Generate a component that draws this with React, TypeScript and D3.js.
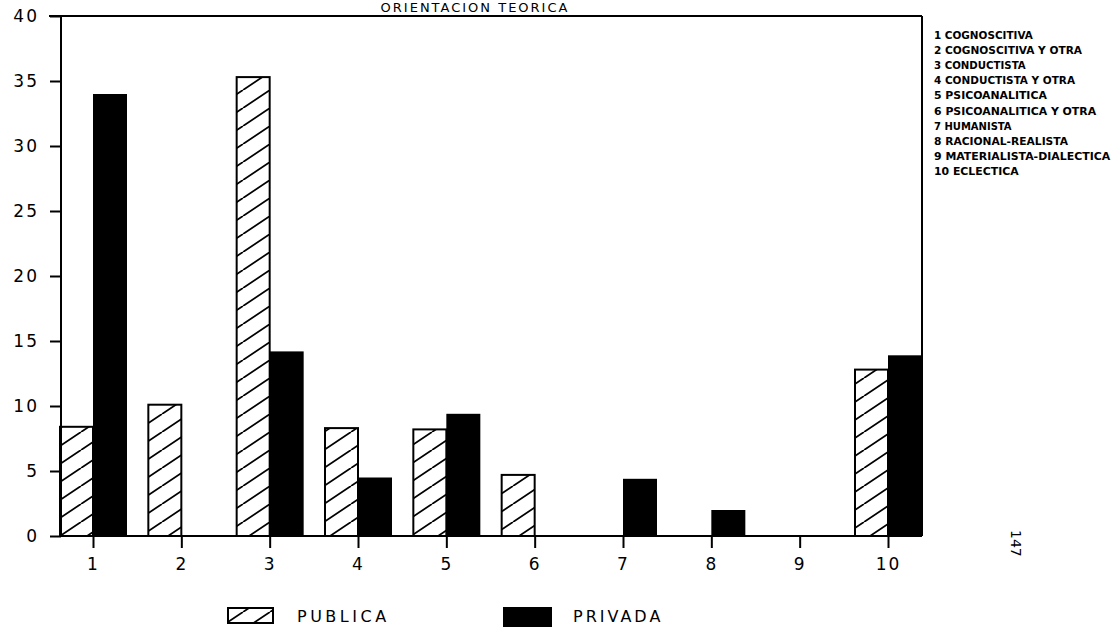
import { useEffect, useRef } from "react";
import * as d3 from "d3";

// categories 1..10 (orientacion teorica)
const categories = ["1", "2", "3", "4", "5", "6", "7", "8", "9", "10"];
const publica = [8.4, 10.1, 35.3, 8.3, 8.2, 4.7, 0, 0, 0, 12.8];
const privada = [34.0, 0, 14.2, 4.5, 9.4, 0, 4.4, 2.0, 0, 13.9];
const yTicks = [0, 5, 10, 15, 20, 25, 30, 35, 40];
const legendItems = [
  "1 COGNOSCITIVA",
  "2 COGNOSCITIVA Y OTRA",
  "3 CONDUCTISTA",
  "4 CONDUCTISTA Y OTRA",
  "5 PSICOANALITICA",
  "6 PSICOANALITICA Y OTRA",
  "7 HUMANISTA",
  "8 RACIONAL-REALISTA",
  "9 MATERIALISTA-DIALECTICA",
  "10 ECLECTICA",
];

const W = 1116;
const H = 628;

const App = () => {
  const svgRef = useRef<SVGSVGElement>(null);

  useEffect(() => {
    const svg = d3.select(svgRef.current);
    svg.selectAll("*").remove();

    const left = 61;
    const right = 922;
    const font = "'DejaVu Sans', sans-serif";

    const x = d3.scalePoint().domain(categories).range([93, 888]);
    const y = d3.scaleLinear().domain([0, 40]).range([536, 16]);
    const barW = 33;

    // hatch pattern for PUBLICA
    const defs = svg.append("defs");
    defs
      .append("pattern")
      .attr("id", "hatch")
      .attr("patternUnits", "userSpaceOnUse")
      .attr("width", 27)
      .attr("height", 18)
      .append("path")
      .attr("d", "M-27,18 L0,0 M0,18 L27,0 M27,18 L54,0")
      .attr("stroke", "#000")
      .attr("stroke-width", 1.8)
      .attr("fill", "none");

    // title (top of it is clipped in the scan)
    svg
      .append("text")
      .attr("x", 475)
      .attr("y", 12)
      .attr("text-anchor", "middle")
      .attr("font-family", font)
      .attr("font-size", 13)
      .attr("letter-spacing", 2)
      .text("ORIENTACION TEORICA");

    // bars
    const g = svg.append("g");
    g.selectAll("rect.pub")
      .data(publica.map((v, i) => ({ v, c: categories[i] })).filter((d) => d.v > 0))
      .enter()
      .append("rect")
      .attr("class", "pub")
      .attr("x", (d) => x(d.c)! - barW)
      .attr("y", (d) => y(d.v))
      .attr("width", barW)
      .attr("height", (d) => y(0) - y(d.v))
      .attr("fill", "url(#hatch)")
      .attr("stroke", "#000")
      .attr("stroke-width", 2);

    g.selectAll("rect.priv")
      .data(privada.map((v, i) => ({ v, c: categories[i] })).filter((d) => d.v > 0))
      .enter()
      .append("rect")
      .attr("class", "priv")
      .attr("x", (d) => x(d.c)!)
      .attr("y", (d) => y(d.v))
      .attr("width", barW + 1)
      .attr("height", (d) => y(0) - y(d.v))
      .attr("fill", "#000");

    // frame
    const frame = svg.append("g").attr("stroke", "#000").attr("stroke-width", 2).attr("fill", "none");
    frame.append("line").attr("x1", left).attr("x2", left).attr("y1", y(40)).attr("y2", y(0));
    frame.append("line").attr("x1", left - 12).attr("x2", right).attr("y1", y(40)).attr("y2", y(40));
    frame.append("line").attr("x1", right).attr("x2", right).attr("y1", y(40)).attr("y2", y(0));
    frame.append("line").attr("x1", left).attr("x2", right).attr("y1", y(0)).attr("y2", y(0));

    // y axis
    const yAxis = d3
      .axisLeft(y)
      .tickValues(yTicks)
      .tickSize(11)
      .tickPadding(11)
      .tickFormat(d3.format("d"));
    const ya = svg.append("g").attr("transform", `translate(${left},0)`).call(yAxis);
    ya.select(".domain").remove();
    ya.selectAll("line").attr("stroke-width", 2);
    ya.selectAll("text")
      .attr("font-family", font)
      .attr("font-size", 17)
      .attr("letter-spacing", 2)
      .attr("fill", "#000");

    // x axis
    const xAxis = d3.axisBottom(x).tickSize(12).tickPadding(10);
    const xa = svg.append("g").attr("transform", `translate(0,${y(0)})`).call(xAxis);
    xa.select(".domain").remove();
    xa.selectAll("line").attr("stroke-width", 2);
    xa.selectAll("text")
      .attr("font-family", font)
      .attr("font-size", 17)
      .attr("letter-spacing", 2)
      .attr("fill", "#000");

    // category legend on the right
    svg
      .append("g")
      .selectAll("text")
      .data(legendItems)
      .enter()
      .append("text")
      .attr("x", 934)
      .attr("y", (d, i) => 39 + i * 15.1)
      .attr("font-family", "'DejaVu Sans Condensed', 'DejaVu Sans', sans-serif")
      .attr("font-weight", "bold")
      .attr("font-size", 11)
      .attr("textLength", (d) => d.length * 7.05)
      .attr("lengthAdjust", "spacingAndGlyphs")
      .text((d) => d);

    // series legend at the bottom
    const leg = svg.append("g");
    leg.append("rect")
      .attr("x", 228).attr("y", 608).attr("width", 45).attr("height", 15)
      .attr("fill", "url(#hatch)").attr("stroke", "#000").attr("stroke-width", 2);
    leg.append("text")
      .attr("x", 297).attr("y", 622)
      .attr("font-family", font).attr("font-size", 16).attr("letter-spacing", 3.5)
      .text("PUBLICA");
    leg.append("rect")
      .attr("x", 503).attr("y", 607).attr("width", 49).attr("height", 20)
      .attr("fill", "#000");
    leg.append("text")
      .attr("x", 573).attr("y", 622)
      .attr("font-family", font).attr("font-size", 16).attr("letter-spacing", 3)
      .text("PRIVADA");

    // page number
    svg
      .append("text")
      .attr("transform", "translate(1011,530) rotate(90)")
      .attr("font-family", font)
      .attr("font-size", 14)
      .text("147");
  }, []);

  return (
    <svg
      ref={svgRef}
      width={W}
      height={H}
      style={{ position: "absolute", left: 0, top: 0, background: "#fff" }}
    />
  );
};

export default App;
